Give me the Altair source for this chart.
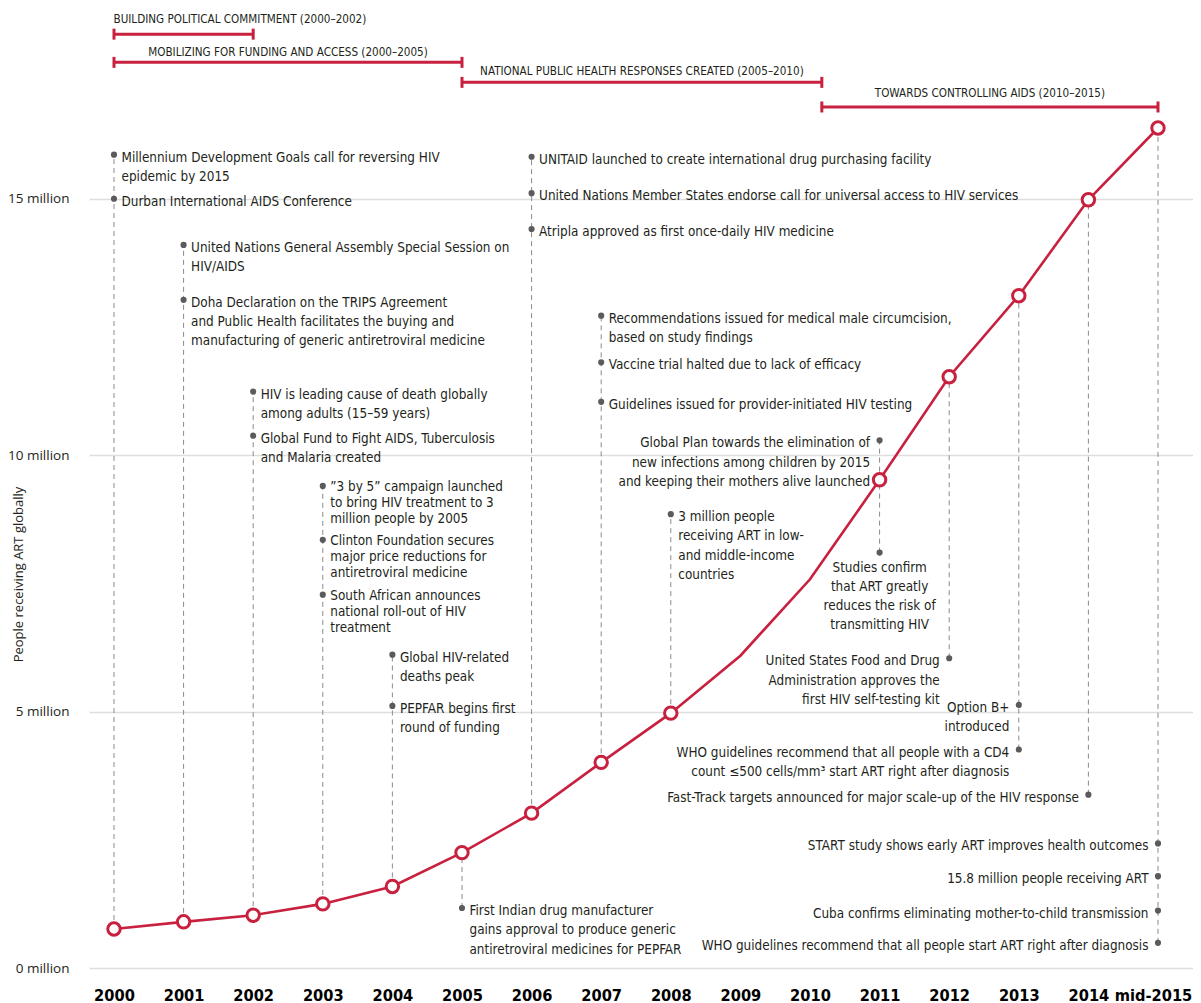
import altair as alt
import pandas as pd

# ---------------- data ----------------
years = list(range(2000, 2016))
art_millions = [0.76, 0.90, 1.03, 1.25, 1.59, 2.25, 3.02, 4.01, 4.97, 6.09, 7.58,
                9.52, 11.53, 13.11, 14.98, 16.38]
has_marker = [True] * 9 + [False, False] + [True] * 5
tick_values = years
y_tick_values = [0, 5, 10, 15]

ann_year = [2000, 2000, 2001, 2001, 2002, 2002, 2003, 2003, 2003, 2004, 2004, 2005,
            2006, 2006, 2006, 2007, 2007, 2007, 2008, 2011, 2011, 2012, 2013, 2013,
            2014, 2015, 2015, 2015, 2015]
ann_value = [15.86, 15.00, 14.10, 13.03, 11.24, 10.38, 9.40, 8.35, 7.28, 6.11, 5.11, 1.17,
             15.82, 15.11, 14.41, 12.72, 11.81, 11.04, 8.85, 10.29, 8.10, 6.04, 5.13, 4.26,
             3.38, 2.43, 1.79, 1.12, 0.49]
ann_text = [
    "Millennium Development Goals call for reversing HIV\nepidemic by 2015",
    "Durban International AIDS Conference",
    "United Nations General Assembly Special Session on\nHIV/AIDS",
    "Doha Declaration on the TRIPS Agreement\nand Public Health facilitates the buying and\nmanufacturing of generic antiretroviral medicine",
    "HIV is leading cause of death globally\namong adults (15\u201359 years)",
    "Global Fund to Fight AIDS, Tuberculosis\nand Malaria created",
    "\u201d3 by 5\u201d campaign launched\nto bring HIV treatment to 3\nmillion people by 2005",
    "Clinton Foundation secures\nmajor  price reductions for\nantiretroviral medicine",
    "South African announces\nnational roll-out of HIV\ntreatment",
    "Global HIV-related\ndeaths peak",
    "PEPFAR begins first\nround of funding",
    "First Indian drug manufacturer\ngains approval  to produce generic\nantiretroviral medicines for PEPFAR",
    "UNITAID launched to create international drug purchasing facility",
    "United Nations Member States endorse call for universal access to HIV services",
    "Atripla approved as first once-daily HIV medicine",
    "Recommendations issued for medical male circumcision,\nbased on study findings",
    "Vaccine trial halted due to lack of efficacy",
    "Guidelines issued for provider-initiated HIV testing",
    "3 million people\nreceiving ART in low-\nand middle-income\ncountries",
    "Global Plan towards the elimination of\nnew infections among children by 2015\nand keeping their mothers alive launched",
    "Studies confirm\nthat ART greatly\nreduces the risk of\ntransmitting HIV",
    "United States Food and Drug\nAdministration approves the\nfirst HIV self-testing kit",
    "Option B+\nintroduced",
    "WHO guidelines  recommend that all people with a CD4\ncount \u2264500 cells/mm\u00b3 start ART right after diagnosis",
    "Fast-Track targets announced for major scale-up of the HIV response",
    "START study shows early ART improves health outcomes",
    "15.8 million people receiving ART",
    "Cuba confirms eliminating mother-to-child transmission",
    "WHO guidelines recommend that all people start ART right after diagnosis",
]
ann_side = ["left"] * 19 + ["right", "below"] + ["right"] * 8

period_label = [
    "BUILDING POLITICAL COMMITMENT (2000\u20132002)",
    "MOBILIZING FOR FUNDING AND ACCESS (2000\u20132005)",
    "NATIONAL PUBLIC HEALTH RESPONSES CREATED (2005\u20132010)",
    "TOWARDS CONTROLLING AIDS (2010\u20132015)",
]
period_start = [2000, 2000, 2005, 2010.17]
period_end = [2002, 2005, 2010.17, 2015]
period_bar_value = [18.21, 17.66, 17.27, 16.79]
period_label_value = [18.49, 17.85, 17.47, 17.05]
period_label_anchor = ["left", "center", "center", "center"]

# ---------------- styles ----------------
RED = "#c8203f"
TEXT = "#231f20"
DOT = "#5b5b5d"
DASH = "#8a8a8a"
ANN_FONT = "'DejaVu Sans Condensed', 'Liberation Sans Narrow', sans-serif"
AX_FONT = "Open Sans"
ANN_SIZE = 13.4

X_SCALE = alt.Scale(domain=[1999.641, 2015.503], nice=False, zero=False)
Y_SCALE = alt.Scale(domain=[0, 18.72], nice=False, zero=False)

X_AXIS = alt.Axis(values=tick_values, format="d",
                  labelExpr="datum.value == 2015 ? 'mid-2015' : datum.label",
                  grid=False, domain=False, ticks=False, tickSize=0,
                  labelPadding=27, labelBaseline="middle", labelFlush=False,
                  labelOffset={"condition": {"test": "datum.value == 2015", "value": -5},
                               "value": 0},
                  labelOverlap=False, labelFont=ANN_FONT, labelFontSize=16.3,
                  labelFontWeight="bold", labelColor="#000000")
Y_TITLE = "People receiving ART globally"
Y_AXIS = alt.Axis(values=y_tick_values, labelExpr="datum.value + ' million'",
                  grid=True, gridColor="#dedede", gridWidth=1.4,
                  domain=False, ticks=False, tickSize=0, labelPadding=20,
                  labelFlush=False, labelFont=AX_FONT, labelFontSize=13.5,
                  labelColor=TEXT,
                  titleFont=AX_FONT, titleFontSize=13, titleFontWeight="normal",
                  titleColor=TEXT, titleAngle=270, titleAlign="center",
                  titleBaseline="middle", titleX=-71, titleY=566)

main_df = pd.DataFrame({"year": years, "art": art_millions, "marker": has_marker})
ann_df = pd.DataFrame({"year": ann_year, "value": ann_value, "text": ann_text, "side": ann_side})
ann_df["tight"] = ann_df["year"] == 2003

# dashed connector extents (from the data point to the farthest annotation)
rows = []
for yr, grp in ann_df.groupby("year"):
    pv = main_df.loc[main_df["year"] == yr, "art"].iloc[0]
    vals = list(grp["value"]) + [pv]
    rows.append({"year": yr, "lo": min(vals), "hi": max(vals)})
rule_df = pd.DataFrame(rows)

period_df = pd.DataFrame({
    "label": period_label, "start": period_start, "end": period_end,
    "bar": period_bar_value, "lab": period_label_value, "anchor": period_label_anchor,
})
period_df["mid"] = (period_df["start"] + period_df["end"]) / 2
caps_df = pd.DataFrame({
    "x": period_start + period_end,
    "y": period_bar_value + period_bar_value,
})


def X(field):
    return alt.X(field, type="quantitative", scale=X_SCALE, axis=X_AXIS, title=None)


def Y(field):
    return alt.Y(field, type="quantitative", scale=Y_SCALE, axis=Y_AXIS, title=Y_TITLE)


line = alt.Chart(main_df).mark_line(color=RED, strokeWidth=2.6).encode(
    x=X("year"), y=Y("art")
)

rules = alt.Chart(rule_df).mark_rule(color=DASH, strokeWidth=1, strokeDash=[5, 4]).encode(
    x=X("year"), y=Y("lo"), y2="hi"
)

circles = alt.Chart(main_df).transform_filter("datum.marker").mark_point(
    filled=True, fill="white", stroke=RED, strokeWidth=3, size=155, opacity=1
).encode(x=X("year"), y=Y("art"))

dots = alt.Chart(ann_df).mark_circle(size=38, color=DOT, opacity=1).encode(
    x=X("year"), y=Y("value")
)


def ann_layer(filt, align, dx, dy, lh):
    return alt.Chart(ann_df).transform_filter(filt).mark_text(
        align=align, baseline="middle", dx=dx, dy=dy, lineHeight=lh, lineBreak="\n",
        font=ANN_FONT, fontSize=ANN_SIZE, color=TEXT
    ).encode(x=X("year"), y=Y("value"), text="text:N")


t_left = ann_layer("datum.side == 'left' && !datum.tight", "left", 7.5, 3, 19.3)
t_left_tight = ann_layer("datum.side == 'left' && datum.tight", "left", 7.5, 1, 16)
t_right = ann_layer("datum.side == 'right'", "right", -9.5, 3, 19.3)
t_below = ann_layer("datum.side == 'below'", "center", 0, 15, 19)

bars = alt.Chart(period_df).mark_rule(color=RED, strokeWidth=3).encode(
    x=X("start"), x2="end", y=Y("bar")
)
caps = alt.Chart(caps_df).mark_point(
    shape="M0,-1L0,1", size=121, color=RED, strokeWidth=3, filled=False, opacity=1
).encode(x=X("x"), y=Y("y"))

plab_left = alt.Chart(period_df).transform_filter("datum.anchor == 'left'").mark_text(
    align="left", baseline="middle", dx=-0.5, font=ANN_FONT, fontSize=11.6, color=TEXT
).encode(x=X("start"), y=Y("lab"), text="label:N")
plab_center = alt.Chart(period_df).transform_filter("datum.anchor == 'center'").mark_text(
    align="center", baseline="middle", font=ANN_FONT, fontSize=11.6, color=TEXT
).encode(x=X("mid"), y=Y("lab"), text="label:N")

chart = alt.layer(
    line, rules, circles, dots, t_left, t_left_tight, t_right, t_below,
    bars, caps, plab_left, plab_center
).properties(
    width=1104, height=960,
    padding={"left": 81, "top": 0, "right": 0, "bottom": 35},
    autosize=alt.AutoSizeParams(type="none"),
    background="white",
).configure_view(stroke=None)

chart.save("out.html", embed_options={"renderer": "svg", "actions": False})
